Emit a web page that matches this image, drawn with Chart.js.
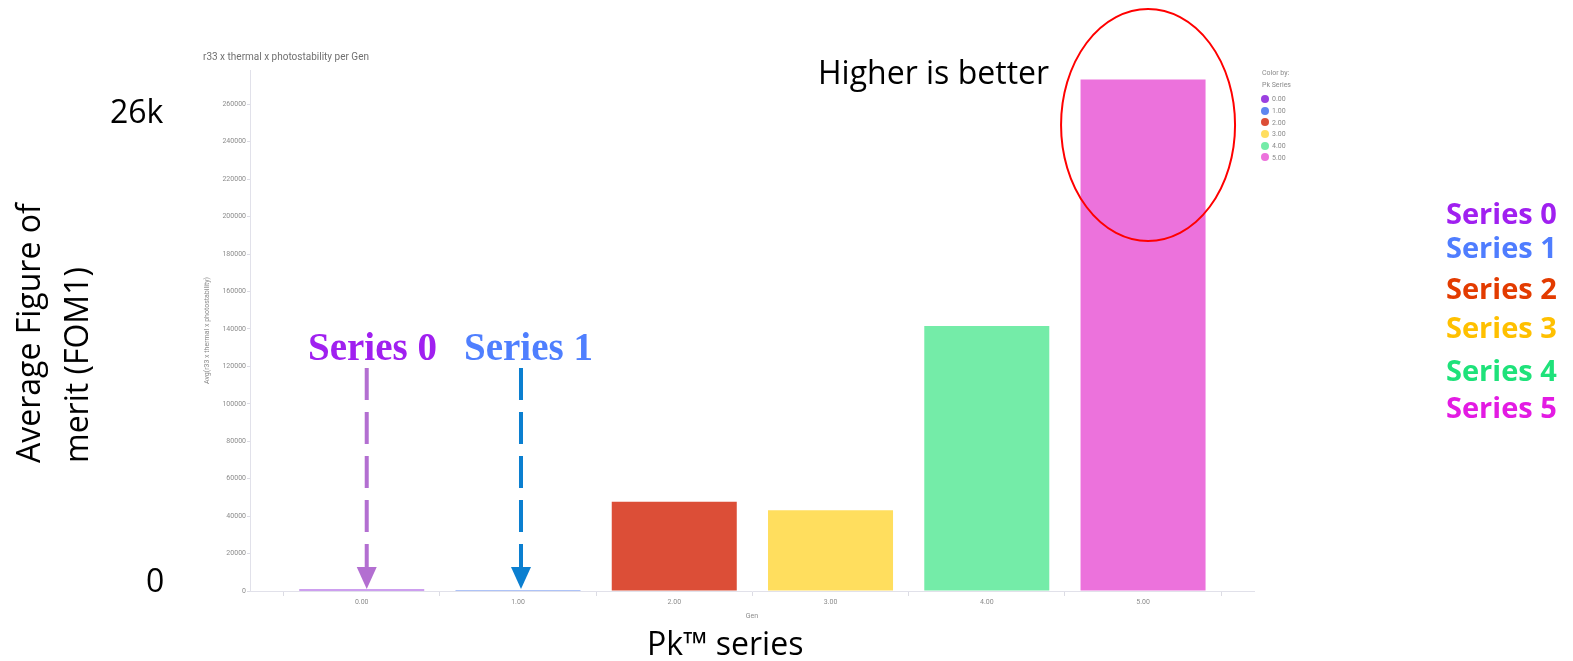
<!DOCTYPE html>
<html>
<head>
<meta charset="utf-8">
<title>FOM per Gen</title>
<script src="https://cdn.jsdelivr.net/npm/chart.js@4.4.1/dist/chart.umd.min.js"></script>
<style>
    body { margin: 0; background: #fff; }
    #wrap { position: relative; width: 1573px; height: 661px; overflow: hidden; font-family: 'Open Sans', sans-serif; }
    #wrap canvas { position: absolute; left: 0; top: 0; }
    .note { position: absolute; white-space: nowrap; line-height: 1; font-size: 32px; color: #000; }
    .callout { position: absolute; white-space: nowrap; line-height: 1; font-family: 'Liberation Serif', serif; font-weight: 700; font-size: 39px; }
    .series { position: absolute; left: 1446px; white-space: nowrap; line-height: 1; font-weight: 700; font-size: 29px; }
    .small { position: absolute; white-space: nowrap; font-family: Roboto, sans-serif; color: #8a8a8a; }
    #ylabel { position: absolute; left: 3.6px; top: 463px; transform-origin: 0 0; transform: rotate(-90deg);
              white-space: nowrap; font-size: 32px; line-height: 48px; color: #000; }
    .dot { display: inline-block; width: 8px; height: 8px; border-radius: 50%; margin-right: 3px; vertical-align: -1.5px; }
</style>
</head>
<body>
<div id="wrap">
    <canvas id="fom" width="1573" height="661"></canvas>

    <div class="small" style="left:203px; top:51px; font-size:10px; line-height:11px; color:#707070;">r33 x thermal x photostability per Gen</div>
    <div id="legend"></div>

    <div class="note" style="left:818px; top:55.6px;">Higher is better</div>
    <div class="note" style="left:110px; top:94.6px;">26k</div>
    <div class="note" style="left:146px; top:563.6px;">0</div>
    <div class="note" style="left:647px; top:626.6px;">Pk™ series</div>
    <div id="ylabel">Average Figure of<br>merit (FOM1)</div>

    <div class="callout" style="left:308px; top:327.4px; color:#a020f0;">Series 0</div>
    <div class="callout" style="left:464px; top:327.4px; color:#4f7fff;">Series 1</div>

    <div id="series-list"></div>
</div>

<script>
// Avg(r33 x thermal x photostability) per Gen
const GEN = [0, 1, 2, 3, 4, 5];
const FOM = [800, 600, 47700, 43200, 141500, 273200];
const BAR_COLORS = ['#9b40e0', '#5f87f0', '#dc4e37', '#ffde5e', '#74eca8', '#ec72dc'];

const Y_MAX = 278300;
const Y_STEP = 20000;

// side list of series names
const SERIES_NAMES = ['Series 0', 'Series 1', 'Series 2', 'Series 3', 'Series 4', 'Series 5'];
const SERIES_COLORS = ['#a020f0', '#4f7dff', '#e33b00', '#ffc000', '#1ee27a', '#e31be3'];
const SERIES_BASELINES = [224, 258, 299, 338, 381, 418];

const TICK_FONT = { family: 'Roboto', size: 7 };
const TICK_COLOR = '#8c8c8c';
const AXIS_COLOR = '#e1e1ea';

// dashed arrows pointing at the near-zero bars
const ARROWS = [
    { gen: 0, dx: 5, color: '#b36fd1' },
    { gen: 1, dx: 3, color: '#0b7fd0' },
];

const annotations = {
    id: 'annotations',
    afterDraw(chart) {
        const { ctx, scales: { x, y } } = chart;
        const tipY = y.getPixelForValue(0) - 2;
        const headH = 22;

        ctx.save();
        ARROWS.forEach(a => {
            const px = x.getPixelForValue(GEN[a.gen]) + a.dx;
            ctx.strokeStyle = a.color;
            ctx.lineWidth = 4;
            ctx.setLineDash([32, 12]);
            ctx.beginPath();
            ctx.moveTo(px, 368);
            ctx.lineTo(px, tipY - headH + 1);
            ctx.stroke();
            ctx.setLineDash([]);
            ctx.fillStyle = a.color;
            ctx.beginPath();
            ctx.moveTo(px - 10, tipY - headH);
            ctx.lineTo(px + 10, tipY - headH);
            ctx.lineTo(px, tipY);
            ctx.closePath();
            ctx.fill();
        });

        // ring around the best series
        ctx.strokeStyle = '#ff0000';
        ctx.lineWidth = 2;
        ctx.beginPath();
        ctx.ellipse(x.getPixelForValue(GEN[5]) + 5, 125, 87, 116, 0, 0, 2 * Math.PI);
        ctx.stroke();
        ctx.restore();
    },
};

new Chart(document.getElementById('fom'), {
    type: 'bar',
    data: {
        datasets: [{
            data: GEN.map((g, i) => ({ x: g, y: FOM[i] })),
            backgroundColor: BAR_COLORS,
            borderWidth: 0,
            barPercentage: 1,
            categoryPercentage: 0.8,
        }],
    },
    options: {
        responsive: false,
        animation: false,
        devicePixelRatio: 1,
        layout: { padding: { left: 190, top: 70, right: 319, bottom: 40 } },
        plugins: {
            legend: { display: false },
            tooltip: { enabled: false },
        },
        scales: {
            x: {
                type: 'linear',
                min: GEN[0] - 0.715,
                max: GEN[GEN.length - 1] + 0.71,
                offset: false,
                afterFit: s => { s.height = 30; },
                afterBuildTicks: s => { s.ticks = GEN.map(g => ({ value: g })); },
                ticks: {
                    autoSkip: false,
                    maxRotation: 0,
                    padding: 2,
                    font: TICK_FONT,
                    color: TICK_COLOR,
                    callback: v => v.toFixed(2),
                },
                // tick marks sit halfway between the Gen labels
                grid: {
                    offset: true,
                    drawOnChartArea: false,
                    tickLength: 5,
                    tickColor: '#dcdce4',
                },
                border: { color: AXIS_COLOR },
                title: {
                    display: true,
                    text: 'Gen',
                    font: TICK_FONT,
                    color: TICK_COLOR,
                    padding: { top: 0, bottom: 1 },
                },
            },
            y: {
                min: 0,
                max: Y_MAX,
                afterFit: s => { s.width = 60; },
                afterBuildTicks: s => {
                    const ticks = [];
                    for (let v = 0; v <= Y_MAX; v += Y_STEP) ticks.push({ value: v });
                    s.ticks = ticks;
                },
                ticks: {
                    padding: 1,
                    font: TICK_FONT,
                    color: TICK_COLOR,
                    callback: v => String(v),
                },
                grid: {
                    drawOnChartArea: false,
                    tickLength: 3,
                    tickColor: '#dcdce4',
                },
                border: { color: AXIS_COLOR },
                title: {
                    display: true,
                    text: 'Avg(r33 x thermal x photostability)',
                    font: TICK_FONT,
                    color: TICK_COLOR,
                    padding: { top: 13, bottom: 0 },
                },
            },
        },
    },
    plugins: [annotations],
});

// "Color by" legend
const legend = document.getElementById('legend');
const legendRows = [['Color by:', null, 73], ['Pk Series', null, 84.5]];
GEN.forEach((g, i) => legendRows.push([g.toFixed(2), BAR_COLORS[i], 99.3 + i * 11.7]));
legendRows.forEach(([text, color, cy]) => {
    const row = document.createElement('div');
    row.className = 'small';
    row.style.cssText = `left:${color ? 1261 : 1262}px; top:${cy - 5}px; font-size:7px; line-height:10px;`;
    row.innerHTML = color ? `<span class="dot" style="background:${color}"></span>${text}` : text;
    legend.appendChild(row);
});

// coloured series names on the right
const list = document.getElementById('series-list');
SERIES_NAMES.forEach((name, i) => {
    const d = document.createElement('div');
    d.className = 'series';
    d.style.top = (SERIES_BASELINES[i] - 0.888 * 29) + 'px';
    d.style.color = SERIES_COLORS[i];
    d.textContent = name;
    list.appendChild(d);
});
</script>
</body>
</html>
